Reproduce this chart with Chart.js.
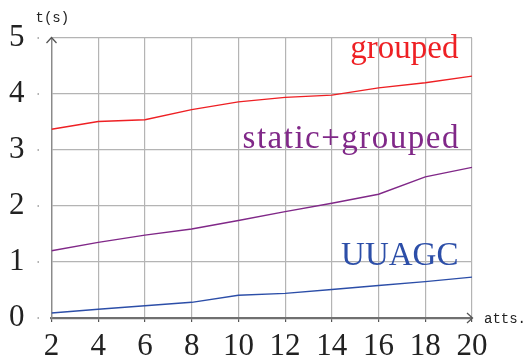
<!DOCTYPE html>
<html>
<head>
<meta charset="utf-8">
<script src="https://cdn.jsdelivr.net/npm/chart.js@4"></script>
<style>
  html, body { margin: 0; padding: 0; background: #ffffff; }
  #wrap { width: 527px; height: 359px; }
</style>
</head>
<body>
<div id="wrap"><canvas id="c" width="527" height="359"></canvas></div>
<script>
// Number of attributes on the x axis
const atts = [2, 4, 6, 8, 10, 12, 14, 16, 18, 20];
// Running times in seconds
const grouped       = [3.37, 3.51, 3.54, 3.72, 3.86, 3.94, 3.98, 4.11, 4.20, 4.32];
const staticGrouped = [1.20, 1.35, 1.48, 1.59, 1.74, 1.90, 2.05, 2.21, 2.52, 2.69];
const uuagc         = [0.09, 0.155, 0.22, 0.28, 0.405, 0.44, 0.51, 0.58, 0.65, 0.73];
const seriesNames   = ['grouped', 'static+grouped', 'UUAGC'];
const xTicks = [2, 4, 6, 8, 10, 12, 14, 16, 18, 20];
const yTicks = [0, 1, 2, 3, 4, 5];

const RED = 'rgb(238,32,36)';
const PURPLE = 'rgb(128,40,136)';
const BLUE = 'rgb(44,78,168)';
const SERIF = '"Liberation Serif", "DejaVu Serif", serif';
const MONO = '"Liberation Mono", "DejaVu Sans Mono", monospace';

const toPoints = vals => atts.map((a, i) => ({ x: a, y: vals[i] }));

// Series names written inside the plot, right-aligned at a data x, baseline at a data y
const nameAnchors = [
  { x: 19.42, y: 4.64, color: RED, spacing: 0 },
  { x: 19.42, y: 3.03, color: PURPLE, spacing: 1.5 },
  { x: 19.42, y: 0.94, color: BLUE, spacing: 0 }
];

const decorations = {
  id: 'decorations',
  afterDraw(chart) {
    const { ctx, chartArea: a, scales } = chart;
    ctx.save();
    // axis arrows
    ctx.strokeStyle = '#555';
    ctx.lineWidth = 1.3;
    ctx.beginPath();
    ctx.moveTo(a.right - 5, a.bottom - 5);
    ctx.lineTo(a.right + 0.5, a.bottom);
    ctx.lineTo(a.right - 5, a.bottom + 5);
    ctx.moveTo(a.left - 5, a.top + 5);
    ctx.lineTo(a.left, a.top - 0.5);
    ctx.lineTo(a.left + 5, a.top + 5);
    ctx.stroke();

    // small marks next to the y labels
    ctx.fillStyle = '#999';
    yTicks.forEach(v => {
      const py = scales.y.getPixelForValue(v);
      ctx.fillRect(a.left - 14, py - 0.75, 1.5, 1.5);
    });

    // axis titles
    ctx.fillStyle = '#222';
    ctx.font = '14px ' + MONO;
    ctx.textAlign = 'left';
    ctx.textBaseline = 'alphabetic';
    ctx.fillText('t(s)', a.left - 16, a.top - 16);
    ctx.fillText('atts.', a.right + 12, a.bottom + 5);

    // series names
    ctx.font = '33px ' + SERIF;
    ctx.textAlign = 'right';
    seriesNames.forEach((name, i) => {
      const n = nameAnchors[i];
      ctx.fillStyle = n.color;
      ctx.letterSpacing = n.spacing + 'px';
      ctx.fillText(name, scales.x.getPixelForValue(n.x) + n.spacing, scales.y.getPixelForValue(n.y));
    });
    ctx.restore();
  }
};

new Chart(document.getElementById('c'), {
  type: 'line',
  data: {
    datasets: [
      { label: seriesNames[0], data: toPoints(grouped), borderColor: RED },
      { label: seriesNames[1], data: toPoints(staticGrouped), borderColor: PURPLE },
      { label: seriesNames[2], data: toPoints(uuagc), borderColor: BLUE }
    ].map(d => Object.assign(d, { borderWidth: 1.4, pointRadius: 0, tension: 0, fill: false }))
  },
  options: {
    responsive: false,
    animation: false,
    devicePixelRatio: 1,
    layout: { padding: { top: 38, right: 55, left: 0, bottom: 0 } },
    plugins: { legend: { display: false }, tooltip: { enabled: false } },
    scales: {
      x: {
        type: 'linear',
        min: 2, max: 20,
        afterBuildTicks: s => { s.ticks = xTicks.map(v => ({ value: v })); },
        afterFit: s => { s.height = 41; s.paddingLeft = 0; s.paddingRight = 0; },
        grid: { color: '#b4b4b4', lineWidth: 1.2, drawTicks: true, tickLength: 4, tickColor: '#555' },
        border: { display: true, color: '#707070', width: 2.2 },
        ticks: { font: { family: SERIF, size: 31 }, color: '#222', padding: 6, maxRotation: 0 }
      },
      y: {
        min: 0, max: 5,
        afterBuildTicks: s => { s.ticks = yTicks.map(v => ({ value: v })); },
        afterFit: s => { s.width = 51.5; s.paddingTop = 0; s.paddingBottom = 0; },
        grid: { color: '#b4b4b4', lineWidth: 1.2, drawTicks: false },
        border: { display: true, color: '#8a8a8a', width: 1.4 },
        ticks: { font: { family: SERIF, size: 31 }, color: '#222', padding: 27 }
      }
    }
  },
  plugins: [decorations]
});
</script>
</body>
</html>
